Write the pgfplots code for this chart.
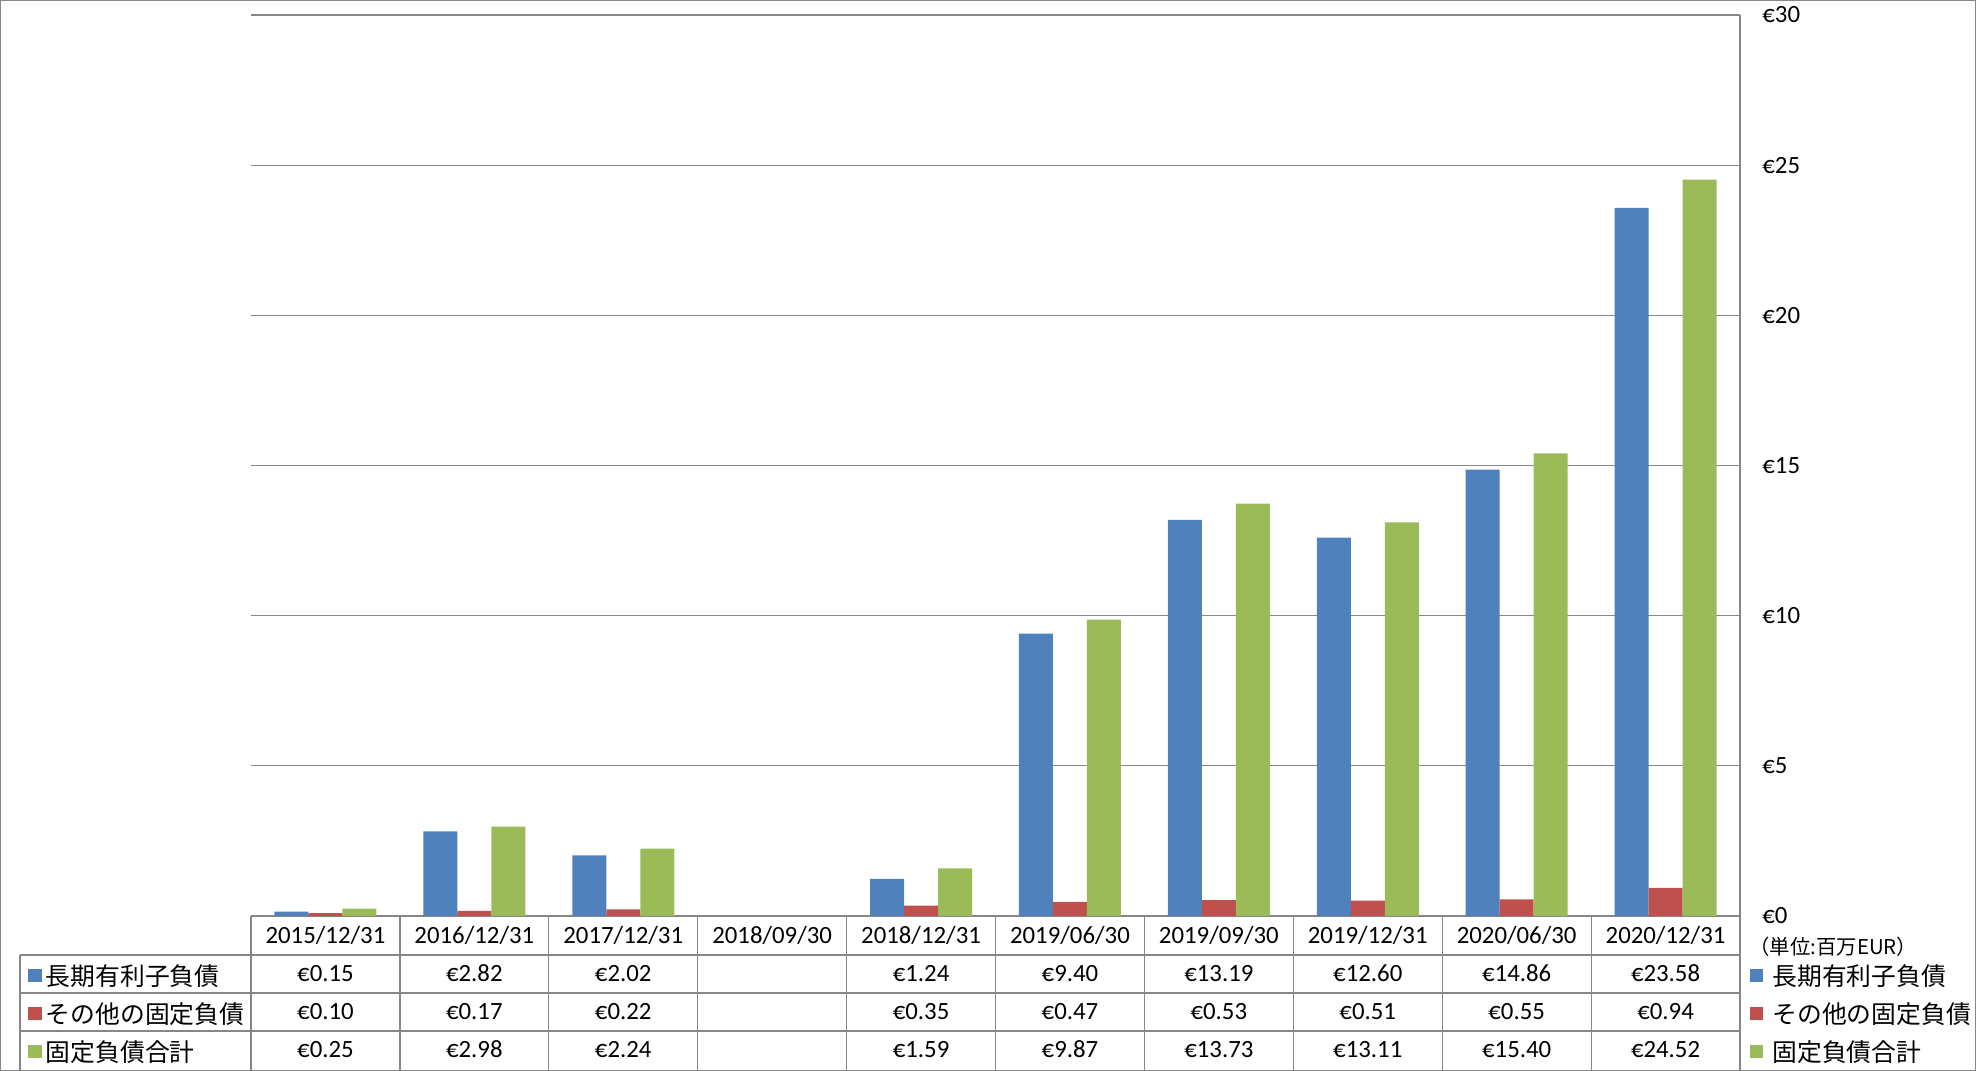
\documentclass[border=0pt]{standalone}
\usepackage{fontspec}
\usepackage{pgfplots}
\pgfplotsset{compat=1.18}
\setmainfont{Carlito}
\newfontfamily\jp{Noto Sans CJK JP}
\definecolor{sBlue}{HTML}{4F81BD}
\definecolor{sRed}{HTML}{C0504D}
\definecolor{sGreen}{HTML}{9BBB59}
\definecolor{lineGray}{HTML}{868686}
\begin{document}
\fontsize{12.4}{15}\selectfont
\begin{tikzpicture}
\begin{axis}[
  at={(125.5pt,-458pt)}, anchor=south west,
  scale only axis, width=744.5pt, height=450.5pt,
  xmin=-0.5, xmax=9.5, ymin=0, ymax=30,
  ytick={0,5,...,30},
  yticklabels={€0,€5,€10,€15,€20,€25,€30},
  xtick={0,...,9},
  xticklabels={2015/12/31,2016/12/31,2017/12/31,2018/09/30,2018/12/31,2019/06/30,2019/09/30,2019/12/31,2020/06/30,2020/12/31},
  axis x line*=bottom, axis y line*=right,
  axis line style={-, lineGray, line width=0.6pt},
  major tick length=0pt,
  ymajorgrids, grid style={lineGray, line width=0.6pt},
  yticklabel style={anchor=west, inner sep=0pt, xshift=11pt},
  xticklabel style={anchor=base, inner sep=0pt, yshift=-13.5pt},
]
\addplot[ybar, bar width=17pt, bar shift=-17pt, fill=sBlue, draw=none]
  coordinates {(0,0.15)(1,2.82)(2,2.02)(4,1.24)(5,9.40)(6,13.19)(7,12.60)(8,14.86)(9,23.58)};
\addplot[ybar, bar width=17pt, bar shift=0pt, fill=sRed, draw=none]
  coordinates {(0,0.10)(1,0.17)(2,0.22)(4,0.35)(5,0.47)(6,0.53)(7,0.51)(8,0.55)(9,0.94)};
\addplot[ybar, bar width=17pt, bar shift=17pt, fill=sGreen, draw=none]
  coordinates {(0,0.25)(1,2.98)(2,2.24)(4,1.59)(5,9.87)(6,13.73)(7,13.11)(8,15.40)(9,24.52)};
\end{axis}
\begin{scope}[x=1pt,y=1pt]
% table lines
\begin{scope}[lineGray, line width=0.6pt]
\foreach \k in {0,...,10} { \draw ({125.5+\k*74.45},-458) -- ({125.5+\k*74.45},-535.5); }
\draw (10,-477.5) -- (10,-535.5);
\foreach \yy in {-477.5,-496.5,-515.5} { \draw (10,\yy) -- (870,\yy); }
\draw (0.3,-0.3) rectangle (987.7,-535.2);
\end{scope}
% table values
\foreach \v [count=\i from 0] in {€0.15,€2.82,€2.02,{},€1.24,€9.40,€13.19,€12.60,€14.86,€23.58}
  { \node[anchor=base, inner sep=0pt] at ({125.5+(\i+0.5)*74.45},-490.75) {\v}; }
\foreach \v [count=\i from 0] in {€0.10,€0.17,€0.22,{},€0.35,€0.47,€0.53,€0.51,€0.55,€0.94}
  { \node[anchor=base, inner sep=0pt] at ({125.5+(\i+0.5)*74.45},-509.75) {\v}; }
\foreach \v [count=\i from 0] in {€0.25,€2.98,€2.24,{},€1.59,€9.87,€13.73,€13.11,€15.40,€24.52}
  { \node[anchor=base, inner sep=0pt] at ({125.5+(\i+0.5)*74.45},-528.75) {\v}; }
% row labels (left) and legend (right)
\foreach \xs/\xt in {14.2/22.8, 875/886} {
  \fill[sBlue]  (\xs,-484.4) rectangle ++(6.6,-6.6);
  \fill[sRed]   (\xs,-503.4) rectangle ++(6.6,-6.6);
  \fill[sGreen] (\xs,-522.4) rectangle ++(6.6,-6.6);
  \node[anchor=base west, inner sep=0pt, font=\jp\fontsize{12.4}{14}\selectfont] at (\xt,-492.6) {長期有利子負債};
  \node[anchor=base west, inner sep=0pt, font=\jp\fontsize{12.4}{14}\selectfont] at (\xt,-511.6) {その他の固定負債};
  \node[anchor=base west, inner sep=0pt, font=\jp\fontsize{12.4}{14}\selectfont] at (\xt,-530.6) {固定負債合計};
}
\node[anchor=west, inner sep=0pt, font=\jp\fontsize{10.2}{12}\selectfont] at (874.5,-473.5) {（単位:百万EUR）};
\end{scope}
\pgfresetboundingbox
\useasboundingbox (0pt,0pt) rectangle (988pt,-535.5pt);
\end{tikzpicture}
\end{document}
